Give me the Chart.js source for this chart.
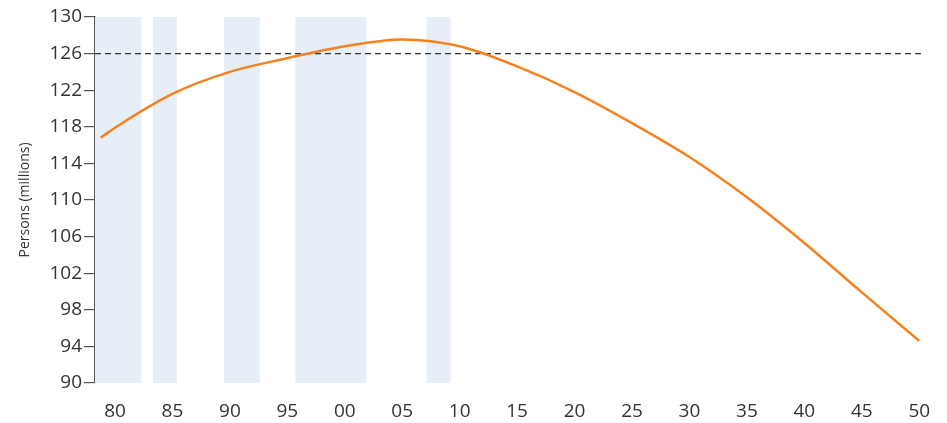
<!DOCTYPE html>
<html>
<head>
<meta charset="utf-8">
<script src="https://cdn.jsdelivr.net/npm/chart.js@4/dist/chart.umd.min.js"></script>
<style>
  html, body { margin: 0; padding: 0; background: #fff; }
  #wrap { width: 947px; height: 423px; }
</style>
</head>
<body>
<div id="wrap"><canvas id="popChart"></canvas></div>
<script>
//Population (millions)
var popYears  = [1978.75, 1980, 1985, 1990, 1995, 2000, 2005, 2010, 2015, 2020, 2025, 2030, 2035, 2040, 2045, 2050];
var popValues = [116.8, 117.9, 121.6, 124.0, 125.5, 126.8, 127.55, 126.8, 124.6, 121.8, 118.4, 114.7, 110.3, 105.3, 99.9, 94.6];

//Shaded periods (start, end)
var bandStart = [1978, 1983.3, 1989.5, 1995.7, 2007.1];
var bandEnd   = [1982.3, 1985.4, 1992.6, 2001.9, 2009.2];

//Reference level
var refLevel = 126;

var tickYears = [1980, 1985, 1990, 1995, 2000, 2005, 2010, 2015, 2020, 2025, 2030, 2035, 2040, 2045, 2050];
var yTicks = [90, 94, 98, 102, 106, 110, 114, 118, 122, 126, 130];

var xMin = 1978.26;
var xMax = 2050.5;

var popData = [];
for (i = 0; i < popYears.length; i++) {
    popData[i] = {x: popYears[i], y: popValues[i]};
}

var bandsPlugin = {
    id: 'bands',
    beforeDatasetsDraw: function(chart) {
        var ctx = chart.ctx;
        var xs = chart.scales.x;
        var area = chart.chartArea;
        ctx.save();
        ctx.fillStyle = '#e6eef8';
        for (i = 0; i < bandStart.length; i++) {
            var x1 = Math.max(xs.getPixelForValue(bandStart[i]), area.left);
            var x2 = Math.min(xs.getPixelForValue(bandEnd[i]), area.right);
            ctx.fillRect(x1, area.top, x2 - x1, area.bottom - area.top);
        }
        ctx.restore();
    }
};

Chart.defaults.font.family = '"Open Sans", sans-serif';
Chart.defaults.color = '#333';

var ctx = document.getElementById('popChart').getContext('2d');
var popChart = new Chart(ctx, {
    type: 'line',
    data: {
        datasets: [
            {
                data: popData,
                borderColor: '#f5821f',
                borderWidth: 2.5,
                pointRadius: 0,
                cubicInterpolationMode: 'monotone',
                fill: false
            },
            {
                data: [{x: xMin, y: refLevel}, {x: xMax, y: refLevel}],
                borderColor: '#333',
                borderWidth: 1.2,
                borderDash: [6, 4],
                pointRadius: 0,
                fill: false
            }
        ]
    },
    options: {
        responsive: true,
        maintainAspectRatio: false,
        animation: false,
        layout: { padding: { top: 17, right: 22, bottom: 0, left: 0 } },
        plugins: {
            legend: { display: false },
            tooltip: { enabled: false }
        },
        scales: {
            x: {
                type: 'linear',
                min: xMin,
                max: xMax,
                afterBuildTicks: function(scale) {
                    scale.ticks = tickYears.map(function(v) { return {value: v}; });
                },
                afterFit: function(scale) { scale.height = 40; },
                grid: { display: false },
                border: { display: false },
                ticks: {
                    padding: 9,
                    maxRotation: 0,
                    autoSkip: false,
                    font: { size: 19 },
                    color: '#333',
                    callback: function(v) { return String(v % 100).padStart(2, '0'); }
                }
            },
            y: {
                min: 90,
                max: 130,
                afterBuildTicks: function(scale) {
                    scale.ticks = yTicks.map(function(v) { return {value: v}; });
                },
                afterFit: function(scale) { scale.width = 95; },
                grid: { drawOnChartArea: false, drawTicks: true, tickLength: 11, color: '#555', lineWidth: 1.2 },
                border: { display: true, color: '#555', width: 1.5 },
                ticks: { padding: 2, font: { size: 19 }, color: '#333' },
                title: {
                    display: true,
                    text: 'Persons (millions)',
                    font: { size: 14 },
                    color: '#333',
                    padding: { top: 17, bottom: 0 }
                }
            }
        }
    },
    plugins: [bandsPlugin]
});
</script>
</body>
</html>
